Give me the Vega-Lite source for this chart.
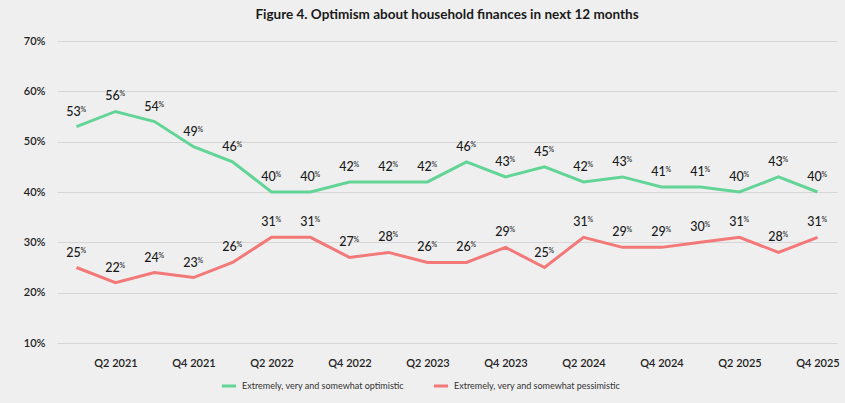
{
  "$schema": "https://vega.github.io/schema/vega-lite/v6.json",
  "width": 780,
  "height": 302,
  "autosize": {"type": "none"},
  "padding": {"left": 57, "top": 41, "right": 8, "bottom": 60},
  "background": "#efefef",
  "title": {
    "text": "Figure 4. Optimism about household finances in next 12 months",
    "font": "Lato",
    "fontSize": 13.5,
    "fontWeight": 700,
    "color": "#1a1a1a",
    "anchor": "middle",
    "offset": 14
  },
  "config": {
    "view": {"stroke": null},
    "font": "Lato"
  },
  "data": {
    "values": [
      {"q": "Q1 2021", "s": "Extremely, very and somewhat optimistic", "v": 53},
      {"q": "Q2 2021", "s": "Extremely, very and somewhat optimistic", "v": 56},
      {"q": "Q3 2021", "s": "Extremely, very and somewhat optimistic", "v": 54},
      {"q": "Q4 2021", "s": "Extremely, very and somewhat optimistic", "v": 49},
      {"q": "Q1 2022", "s": "Extremely, very and somewhat optimistic", "v": 46},
      {"q": "Q2 2022", "s": "Extremely, very and somewhat optimistic", "v": 40},
      {"q": "Q3 2022", "s": "Extremely, very and somewhat optimistic", "v": 40},
      {"q": "Q4 2022", "s": "Extremely, very and somewhat optimistic", "v": 42},
      {"q": "Q1 2023", "s": "Extremely, very and somewhat optimistic", "v": 42},
      {"q": "Q2 2023", "s": "Extremely, very and somewhat optimistic", "v": 42},
      {"q": "Q3 2023", "s": "Extremely, very and somewhat optimistic", "v": 46},
      {"q": "Q4 2023", "s": "Extremely, very and somewhat optimistic", "v": 43},
      {"q": "Q1 2024", "s": "Extremely, very and somewhat optimistic", "v": 45},
      {"q": "Q2 2024", "s": "Extremely, very and somewhat optimistic", "v": 42},
      {"q": "Q3 2024", "s": "Extremely, very and somewhat optimistic", "v": 43},
      {"q": "Q4 2024", "s": "Extremely, very and somewhat optimistic", "v": 41},
      {"q": "Q1 2025", "s": "Extremely, very and somewhat optimistic", "v": 41},
      {"q": "Q2 2025", "s": "Extremely, very and somewhat optimistic", "v": 40},
      {"q": "Q3 2025", "s": "Extremely, very and somewhat optimistic", "v": 43},
      {"q": "Q4 2025", "s": "Extremely, very and somewhat optimistic", "v": 40},
      {"q": "Q1 2021", "s": "Extremely, very and somewhat pessimistic", "v": 25},
      {"q": "Q2 2021", "s": "Extremely, very and somewhat pessimistic", "v": 22},
      {"q": "Q3 2021", "s": "Extremely, very and somewhat pessimistic", "v": 24},
      {"q": "Q4 2021", "s": "Extremely, very and somewhat pessimistic", "v": 23},
      {"q": "Q1 2022", "s": "Extremely, very and somewhat pessimistic", "v": 26},
      {"q": "Q2 2022", "s": "Extremely, very and somewhat pessimistic", "v": 31},
      {"q": "Q3 2022", "s": "Extremely, very and somewhat pessimistic", "v": 31},
      {"q": "Q4 2022", "s": "Extremely, very and somewhat pessimistic", "v": 27},
      {"q": "Q1 2023", "s": "Extremely, very and somewhat pessimistic", "v": 28},
      {"q": "Q2 2023", "s": "Extremely, very and somewhat pessimistic", "v": 26},
      {"q": "Q3 2023", "s": "Extremely, very and somewhat pessimistic", "v": 26},
      {"q": "Q4 2023", "s": "Extremely, very and somewhat pessimistic", "v": 29},
      {"q": "Q1 2024", "s": "Extremely, very and somewhat pessimistic", "v": 25},
      {"q": "Q2 2024", "s": "Extremely, very and somewhat pessimistic", "v": 31},
      {"q": "Q3 2024", "s": "Extremely, very and somewhat pessimistic", "v": 29},
      {"q": "Q4 2024", "s": "Extremely, very and somewhat pessimistic", "v": 29},
      {"q": "Q1 2025", "s": "Extremely, very and somewhat pessimistic", "v": 30},
      {"q": "Q2 2025", "s": "Extremely, very and somewhat pessimistic", "v": 31},
      {"q": "Q3 2025", "s": "Extremely, very and somewhat pessimistic", "v": 28},
      {"q": "Q4 2025", "s": "Extremely, very and somewhat pessimistic", "v": 31}
    ]
  },
  "encoding": {
    "x": {
      "field": "q",
      "type": "ordinal",
      "sort": null,
      "scale": {"type": "point", "padding": 0.5},
      "axis": {
        "title": null,
        "values": ["Q2 2021", "Q4 2021", "Q2 2022", "Q4 2022", "Q2 2023", "Q4 2023", "Q2 2024", "Q4 2024", "Q2 2025", "Q4 2025"],
        "labelAngle": 0,
        "domain": false,
        "ticks": false,
        "grid": false,
        "labelFont": "Lato",
        "labelFontSize": 11,
        "labelFontWeight": 600,
        "labelColor": "#222222",
        "labelPadding": 14
      }
    },
    "y": {
      "field": "v",
      "type": "quantitative",
      "scale": {"domain": [10, 70], "nice": false, "zero": false},
      "axis": {
        "title": null,
        "values": [10, 20, 30, 40, 50, 60, 70],
        "labelExpr": "datum.value + '%'",
        "domain": false,
        "ticks": false,
        "grid": true,
        "gridColor": "#d6d6d6",
        "gridWidth": 1,
        "labelFont": "Lato",
        "labelFontSize": 11,
        "labelFontWeight": 600,
        "labelColor": "#222222",
        "labelPadding": 12
      }
    },
    "color": {
      "field": "s",
      "type": "nominal",
      "scale": {
        "domain": ["Extremely, very and somewhat optimistic", "Extremely, very and somewhat pessimistic"],
        "range": ["#62d596", "#f37878"]
      },
      "legend": {
        "title": null,
        "orient": "none",
        "direction": "horizontal",
        "legendX": 163,
        "legendY": 336,
        "symbolType": "stroke",
        "symbolStrokeWidth": 3,
        "symbolSize": 200,
        "labelFont": "Lato",
        "labelFontSize": 9,
        "labelLimit": 0,
        "labelColor": "#333333",
        "columnPadding": 22
      }
    }
  },
  "layer": [
    {
      "mark": {"type": "line", "strokeWidth": 3}
    },
    {
      "mark": {"type": "text", "baseline": "bottom", "align": "center", "dy": -8, "dx": -3, "font": "Lato", "fontSize": 12.5, "fontWeight": 500, "color": "#1a1a1a"},
      "encoding": {
        "text": {"field": "v", "type": "quantitative", "format": "d"},
        "color": {"value": "#1a1a1a"}
      }
    },
    {
      "mark": {"type": "text", "baseline": "bottom", "align": "left", "dy": -14, "dx": 4, "font": "Lato", "fontSize": 7, "fontWeight": 500, "text": "%"},
      "encoding": {
        "color": {"value": "#1a1a1a"}
      }
    }
  ]
}
